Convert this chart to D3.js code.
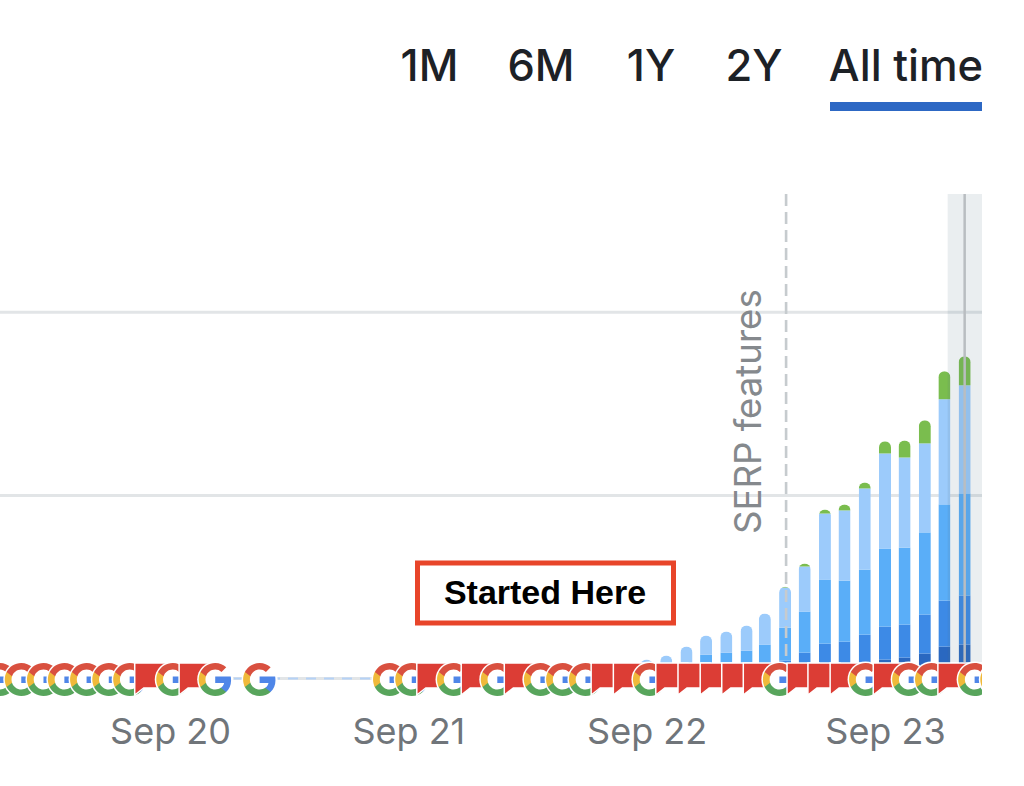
<!DOCTYPE html>
<html>
<head>
<meta charset="utf-8">
<script src="https://cdn.jsdelivr.net/npm/d3@7"></script>
<style>
  html, body { margin: 0; background: #fff; }
  svg { display: block; }
  text { font-family: Inter, "Liberation Sans", sans-serif; }
</style>
</head>
<body>
<div id="theGraph"></div>
<script>
const tabLabels = ["1M", "6M", "1Y", "2Y", "All time"];
const tickDates = ["2020-09-01", "2021-09-01", "2022-09-01", "2023-09-01"];
const gridValues = [100, 200];

// monthly bars, Sep 22 to Jan 24
const months = ["2022-09-01", "2022-10-01", "2022-11-01", "2022-12-01", "2023-01-01", "2023-02-01", "2023-03-01", "2023-04-01", "2023-05-01", "2023-06-01", "2023-07-01", "2023-08-01", "2023-09-01", "2023-10-01", "2023-11-01", "2023-12-01", "2024-01-01"];
const top3 = [0, 0, 0, 0, 0, 0, 0, 0, 0, 0, 0, 0, 10.4, 11.5, 13.7, 17.5, 18.6];
const top10 = [0, 0, 0, 0, 0, 0, 0, 9.8, 14.2, 19.1, 20.2, 24, 18, 18, 21.3, 25.1, 26.8];
const top50 = [0, 0, 0, 13.1, 14.2, 15.3, 18.6, 18, 22.4, 35, 33.3, 35.5, 42.6, 42, 44.8, 52.5, 55.7];
const top100 = [10.4, 12.6, 17.5, 10.4, 11.5, 13.7, 16.9, 21.9, 24.6, 36, 38.3, 44.3, 51.9, 49.2, 48.6, 57.4, 59];
const serp = [0, 0, 0, 0, 0, 0, 0, 0.5, 1.6, 2.2, 3.3, 3.3, 6.6, 9.3, 12.6, 15.3, 15.8];
const layerKeys = ["top3", "top10", "top50", "top100", "serp"];
const layerColors = ["#2a68c0", "#3d8ae6", "#5aaef8", "#9ccbfb", "#7abd4e"];

// markers on the date axis, g = google update, f = flag
const eventDates = ["2019-12-16", "2020-01-18", "2020-02-21", "2020-03-24", "2020-04-27", "2020-05-31", "2020-07-02", "2020-08-04", "2020-09-06", "2020-10-11", "2020-11-10", "2021-01-17", "2021-08-04", "2021-09-07", "2021-10-10", "2021-11-10", "2021-12-17", "2022-01-16", "2022-02-21", "2022-03-23", "2022-04-26", "2022-05-31", "2022-07-04", "2022-08-07", "2022-09-06", "2022-10-11", "2022-11-14", "2022-12-18", "2023-01-20", "2023-02-22", "2023-03-24", "2023-04-30", "2023-06-01", "2023-07-05", "2023-08-03", "2023-09-09", "2023-10-08", "2023-11-12", "2023-12-17", "2024-01-17", "2024-02-20"];
const eventTypes = ["g", "g", "g", "g", "g", "g", "g", "f", "g", "f", "g", "g", "g", "g", "f", "g", "f", "g", "f", "g", "g", "g", "f", "f", "g", "f", "f", "f", "f", "f", "g", "f", "f", "f", "g", "f", "g", "g", "f", "g", "g"];

const serpDate = "2023-04-01";
const hoverDate = "2024-01-01";

const width = 1024, height = 786,
    plot = {right: 982, top: 194, floor: 662},
    barWidth = 12,
    tabCentres = [429.5, 541, 651, 754, 906];

const parseDate = d3.utcParse("%Y-%m-%d");
const xScale = d3.scaleUtc().domain([parseDate(tickDates[0]), parseDate(tickDates[3])]).range([170, 885]);
const yScale = d3.scaleLinear().domain([0, 200]).range([678.6, 312.2]);

const svg = d3.select("#theGraph").append("svg").attr("width", width).attr("height", height);

// tabs
svg.append("g").selectAll("text").data(tabLabels).join("text")
    .text(d => d)
    .attr("x", (d, i) => tabCentres[i]).attr("y", 81).attr("text-anchor", "middle")
    .attr("font-size", 43.5).attr("font-weight", 500).attr("fill", "#1d2126");
svg.append("rect").attr("x", 830).attr("y", 102).attr("width", plot.right - 830).attr("height", 9).attr("fill", "#2d68c4");

// grid
svg.append("g").selectAll("line").data(gridValues.concat(0)).join("line")
    .attr("x1", 0).attr("x2", plot.right)
    .attr("y1", d => yScale(d)).attr("y2", d => yScale(d))
    .attr("stroke", "#e2e5e7").attr("stroke-width", 3);
svg.append("line").attr("x1", 0).attr("x2", plot.right)
    .attr("y1", yScale(0)).attr("y2", yScale(0))
    .attr("stroke", "#b5d2f6").attr("stroke-width", 2).attr("stroke-dasharray", "10 8");

// stacked bars, rounded on top through a clip
const table = months.map((m, i) => ({date: parseDate(m), top3: top3[i], top10: top10[i], top50: top50[i], top100: top100[i], serp: serp[i]}));
const series = d3.stack().keys(layerKeys)(table);
const totals = table.map(d => d3.sum(layerKeys, k => d[k]));

const defs = svg.append("defs");
defs.selectAll("clipPath.bar").data(table).join("clipPath")
    .attr("class", "bar").attr("id", (d, i) => "bar" + i)
    .append("rect")
    .attr("x", d => xScale(d.date) - barWidth / 2)
    .attr("y", (d, i) => yScale(totals[i]))
    .attr("width", barWidth)
    .attr("height", (d, i) => yScale(0) - yScale(totals[i]))
    .attr("rx", 6).attr("ry", 6);
defs.append("clipPath").attr("id", "plotClip").append("rect").attr("width", plot.right).attr("height", height);

const bars = svg.append("g").selectAll("g").data(table).join("g").attr("clip-path", (d, i) => `url(#bar${i})`);
series.forEach((s, k) => {
    bars.append("rect")
        .attr("x", d => xScale(d.date) - barWidth / 2)
        .attr("width", barWidth)
        .attr("y", (d, i) => yScale(s[i][1]))
        .attr("height", (d, i) => yScale(s[i][0]) - yScale(s[i][1]))
        .attr("fill", layerColors[k]);
});

// hover band
const hoverX = xScale(parseDate(hoverDate));
svg.append("rect").attr("x", hoverX - 17).attr("y", plot.top).attr("width", plot.right - hoverX + 17).attr("height", plot.floor - plot.top)
    .attr("fill", "#4f7080").attr("fill-opacity", 0.12);
svg.append("line").attr("x1", hoverX).attr("x2", hoverX).attr("y1", plot.top).attr("y2", plot.floor)
    .attr("stroke", "#b9bdc1").attr("stroke-width", 2.5);

// SERP marker
const serpX = xScale(parseDate(serpDate));
svg.append("line").attr("x1", serpX + 1).attr("x2", serpX + 1).attr("y1", plot.top).attr("y2", plot.floor)
    .attr("stroke", "#c6cbce").attr("stroke-width", 2.6).attr("stroke-dasharray", "12 6");
svg.append("text").text("SERP features")
    .attr("transform", `translate(${serpX - 24},534) rotate(-90)`)
    .attr("font-size", 36.6).attr("fill", "#85898d");

// annotation box
svg.append("rect").attr("x", 417.5).attr("y", 563).attr("width", 256).attr("height", 60)
    .attr("fill", "#fff").attr("stroke", "#e8452a").attr("stroke-width", 5);
svg.append("text").text("Started Here").attr("x", 545).attr("y", 604).attr("text-anchor", "middle")
    .attr("font-size", 34).attr("font-weight", 700).attr("fill", "#000")
    .style("font-family", "'Liberation Sans', sans-serif");

// markers, later ones paint over earlier ones
const gParts = [
    ["#4f86e8", "M45.12 24.5c0-1.56-.14-3.06-.4-4.5H24v8.51h11.84c-.51 2.75-2.06 5.08-4.39 6.64v5.52h7.11c4.16-3.83 6.56-9.47 6.56-15.17z"],
    ["#58a55c", "M24 46c5.94 0 10.92-1.97 14.56-5.33l-7.11-5.52c-1.97 1.32-4.49 2.2-7.45 2.2-5.73 0-10.58-3.87-12.31-9.07H4.34v5.7C7.96 41.07 15.4 46 24 46z"],
    ["#f0b93a", "M11.69 28.18C11.25 26.86 11 25.45 11 24s.25-2.86.69-4.18v-5.7H4.34C2.85 17.09 2 20.45 2 24c0 3.55.85 6.91 2.34 9.88l7.35-5.7z"],
    ["#d9503f", "M24 10.75c3.23 0 6.13 1.11 8.41 3.29l6.31-6.31C34.91 4.18 29.93 2 24 2 15.4 2 7.96 6.93 4.34 14.12l7.35 5.7c1.73-5.2 6.58-9.07 12.31-9.07z"]
];
const markers = svg.append("g").attr("clip-path", "url(#plotClip)");
eventDates.forEach((d, i) => {
    const cx = xScale(parseDate(d));
    const m = markers.append("g").attr("transform", `translate(${cx - 17},663)`);
    if (eventTypes[i] === "g") {
        m.append("circle").attr("cx", 16.5).attr("cy", 16.5).attr("r", 18).attr("fill", "#fff");
        const glyph = m.append("g").attr("transform", "scale(0.75) translate(-2,-2)");
        gParts.forEach(p => glyph.append("path").attr("fill", p[0]).attr("d", p[1]));
    } else {
        m.append("path").attr("d", "M0 0H32V25H9L0 32Z")
            .attr("fill", "#dc3d35").attr("stroke", "#fff").attr("stroke-width", 1.5);
    }
});

// x axis
const axis = svg.append("g").attr("transform", "translate(0,712)")
    .call(d3.axisBottom(xScale).tickValues(tickDates.map(parseDate)).tickFormat(d3.utcFormat("%b %y")).tickSize(0).tickPadding(0));
axis.select(".domain").remove();
axis.selectAll("text").attr("font-size", 36).attr("fill", "#70757a").style("font-family", "Inter, sans-serif").attr("dy", "0.9em");
</script>
</body>
</html>
